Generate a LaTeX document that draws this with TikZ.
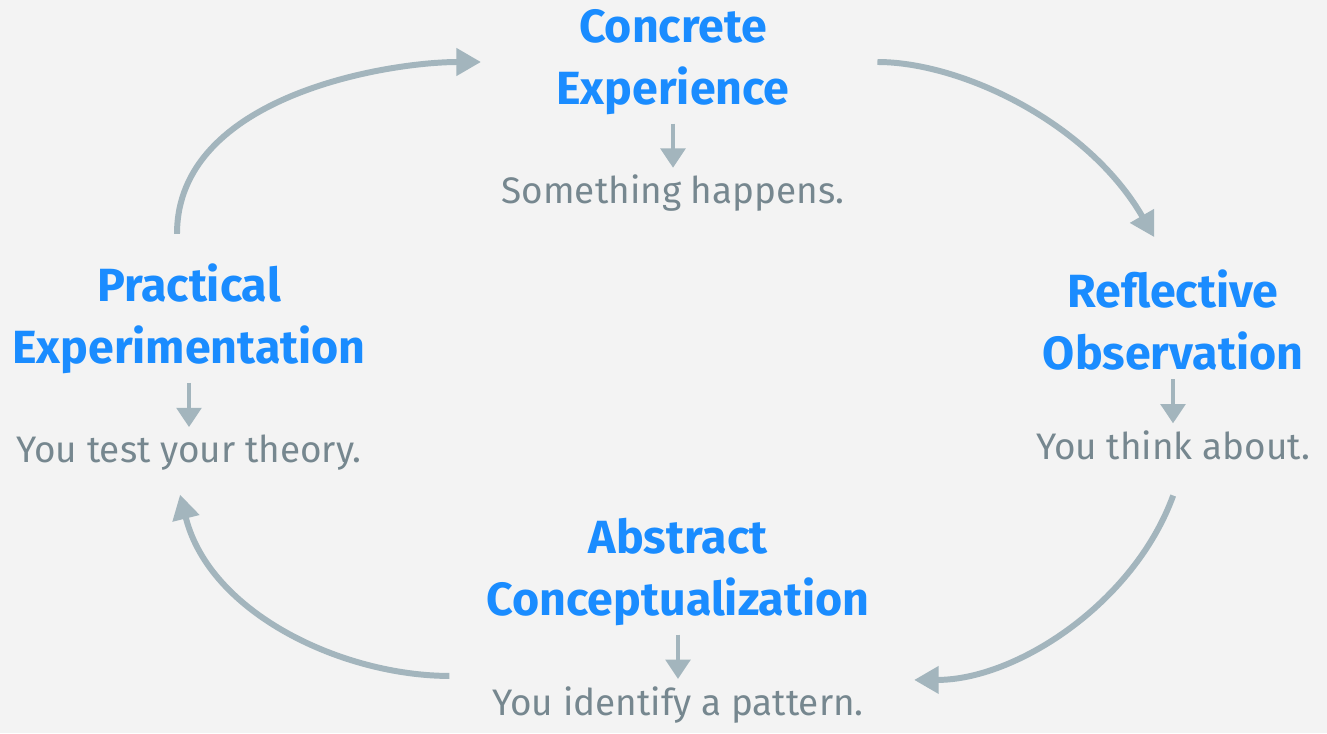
\documentclass[tikz,border=0pt]{standalone}
\usepackage{fontspec}
\setmainfont{Fira Sans}
\usetikzlibrary{arrows.meta, positioning}
\definecolor{stageblue}{HTML}{1A8CFF}
\definecolor{notegray}{HTML}{76878F}
\definecolor{arrowgray}{HTML}{A3B5BD}
\definecolor{bggray}{HTML}{F3F3F3}
\tikzstyle{stage} = [font=\fontsize{26.5}{35}\selectfont\bfseries, text=stageblue,
    align=center, inner sep=0pt]
\tikzstyle{note} = [font=\fontsize{21}{25}\selectfont, text=notegray, inner sep=0pt]
\tikzstyle{line} = [draw=arrowgray, line width=2.3pt, -{Triangle[length=11pt, width=14pt]}]
\tikzstyle{cycle} = [draw=arrowgray, line width=3.4pt, -{Triangle[length=14pt, width=15pt]}]

\begin{document}
\begin{tikzpicture}[x=0.02cm, y=-0.02cm, node distance=1.2cm]
        \fill [bggray] (0,0) rectangle (1327,733);
        % Place nodes
        \node [stage] (concrete) at (673,62) {Concrete\\Experience};
        \node [note, below=of concrete] (concrete_info) {Something happens.};
        \node [stage] (reflective) at (1173,320) {Reflective\\Observation};
        \node [note, below=of reflective] (reflective_info) {You think about.};
        \node [stage] (abstract) at (678,572) {Abstract\\Conceptualization};
        \node [note, below=of abstract] (abstract_info) {You identify a pattern.};
        \node [stage] (practical) at (189,319) {Practical\\Experimentation};
        \node [note, below=of practical] (practical_info) {You test your theory.};
        % Short arrows
        \path [line, shorten <=5pt, shorten >=4pt] (concrete.south) -- (concrete_info.north);
        \path [line, shorten <=5pt, shorten >=4pt] (reflective.south) -- (reflective_info.north);
        \path [line, shorten <=5pt, shorten >=4pt] (abstract.south) -- (abstract_info.north);
        \path [line, shorten <=5pt, shorten >=4pt] (practical.south) -- (practical_info.north);
        % Draw cycle
        \path [cycle, shorten <=1.75cm, shorten >=0.75cm] (concrete.east) to [out=0, in=120] (reflective.north);
        \path [cycle, shorten <=0.75cm, shorten >=1.0cm] ([xshift=0.26cm]reflective_info.south) to [out=-110, in=0] ([yshift=0.12cm]abstract_info.north east);
        \path [cycle, shorten <=0.85cm, shorten >=0.5cm] ([yshift=0.2cm]abstract_info.north west) to [out=180, in=-76] ([xshift=-0.3cm]practical_info.south);
        \path [cycle, shorten <=0.6cm, shorten >=1.5cm] ([xshift=-0.24cm]practical.north) to [out=90, in=180] (concrete.west);
\end{tikzpicture}
\end{document}
